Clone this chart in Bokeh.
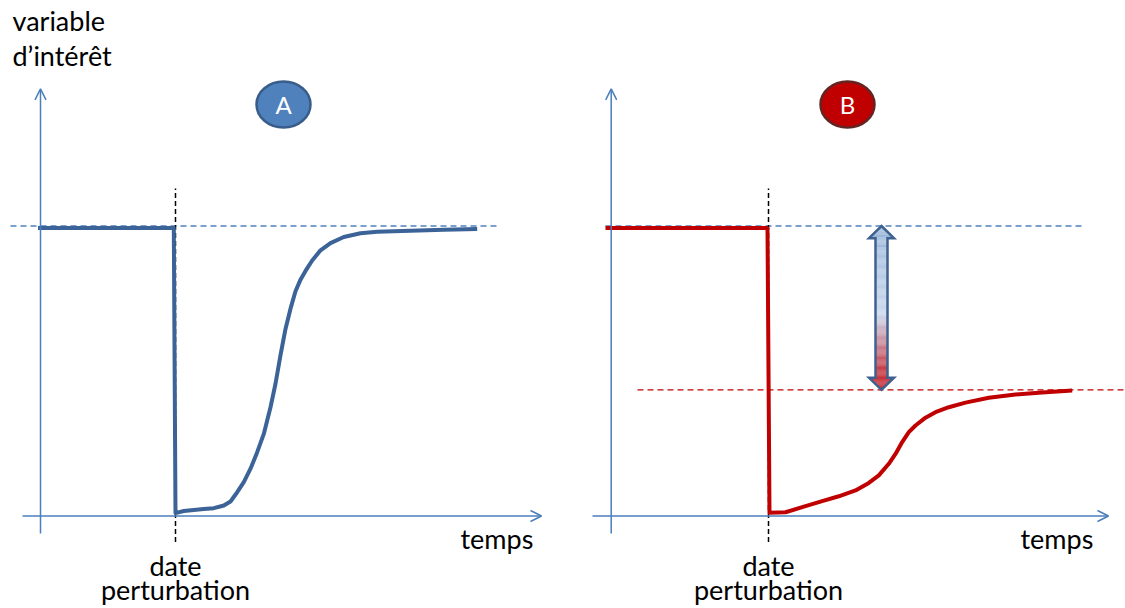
import numpy as np
from bokeh.plotting import figure
from bokeh.models import Range1d, Arrow, OpenHead
from bokeh.core.properties import value
from bokeh.embed import file_html
from bokeh.resources import INLINE

# ---------------- data (time: 0 = date of perturbation; value: 10 = reference level) -------------
t_A = [-13.75, -0.17, 0.0, 0.83, 1.83, 2.83, 3.83, 4.83, 5.5, 6.17, 6.83, 7.5, 8.17, 8.83, 9.5,
       10.0, 10.5, 11.0, 11.5, 12.0, 12.5, 13.0, 13.67, 14.5, 15.5, 16.83, 18.5, 20.17, 23.5, 26.83, 30.17]
v_A = [9.93, 9.93, 0.10, 0.17, 0.21, 0.24, 0.27, 0.36, 0.50, 0.82, 1.17, 1.63, 2.20, 2.83, 3.75,
       4.56, 5.55, 6.45, 7.15, 7.75, 8.15, 8.45, 8.81, 9.16, 9.41, 9.62, 9.75, 9.80, 9.84, 9.87, 9.90]

t_B = [-16.3, -0.1, 0.1, 1.7, 3.7, 5.37, 7.03, 8.7, 10.03, 11.03, 12.03, 12.7, 13.37, 14.03, 14.7,
       15.7, 16.7, 18.03, 19.7, 22.03, 24.7, 27.37, 30.37]
v_B = [9.93, 9.93, 0.11, 0.13, 0.34, 0.51, 0.68, 0.88, 1.14, 1.40, 1.80, 2.14, 2.55, 2.89, 3.12,
       3.39, 3.58, 3.75, 3.91, 4.08, 4.19, 4.26, 4.33]

ref_level = 10.0        # initial level (blue dashed)
new_level_B = 4.35      # new equilibrium in B (red dashed)
panel_labels = ["A", "B"]
y_title = ["variable", "d’intérêt"]
x_title = "temps"
date_label = ["date", "perturbation"]

# ---------------- layout (positions in the same units) ----------------
OFF_B = 59.3            # horizontal origin of panel B
yaxis_t = [-13.5, -15.73]
xaxis_start = [-15.3, -17.6]
xaxis_end = [36.6, 34.0]
yaxis_bottom, yaxis_top = -0.6, 14.73
ref_line = [(-16.5, 32.5), (-16.3, 31.4)]
red_line = (-13.1, 35.7)
date_line = (-0.9, 11.29)
badge_t = [10.8, 7.9]
badge_v = 14.19
temps_t = [28.5, 25.2]
arrow_t = 11.3

axis_color = "#4A7EBB"
FONT = value("Lato")

p = figure(width=1125, height=608, x_range=Range1d(-17.5, 95.0), y_range=Range1d(-3.19, 17.776),
           output_backend="svg", toolbar_location=None, min_border=0,
           x_axis_type=None, y_axis_type=None)
p.grid.visible = False
p.outline_line_color = None
p.background_fill_color = "white"

offs = [0.0, OFF_B]

for i, off in enumerate(offs):
    # axes with open arrow heads
    p.add_layout(Arrow(end=OpenHead(size=11, line_color=axis_color, line_width=1.5),
                       x_start=yaxis_t[i] + off, y_start=yaxis_bottom,
                       x_end=yaxis_t[i] + off, y_end=yaxis_top,
                       line_color=axis_color, line_width=1.5))
    p.add_layout(Arrow(end=OpenHead(size=11, line_color=axis_color, line_width=1.5),
                       x_start=xaxis_start[i] + off, y_start=0,
                       x_end=xaxis_end[i] + off, y_end=0,
                       line_color=axis_color, line_width=1.5))
    # reference level
    p.line([ref_line[i][0] + off, ref_line[i][1] + off], [ref_level, ref_level],
           line_color="#4F81BD", line_width=1.3, line_dash="6 4")
    # date of perturbation
    p.line([off, off], [date_line[0], date_line[1]], line_color="black",
           line_width=1.5, line_dash="5 3")

# red dashed new level
p.line([red_line[0] + OFF_B, red_line[1] + OFF_B], [new_level_B, new_level_B],
       line_color="#C00000", line_width=1.3, line_dash="6 4")

# curves
p.line(t_A, v_A, line_color="#3B6397", line_width=4, line_join="round")
p.line([t + OFF_B for t in t_B], v_B, line_color="#C00000", line_width=4, line_join="round")

# double arrow with gradient fill (blue -> red)
top, bot = ref_level, new_level_B
hh, hw, sw = 0.42, 1.25, 0.6
n = 180
edges = np.linspace(bot, top, n + 1)
mids = 0.5 * (edges[:-1] + edges[1:])
def halfw(v):
    if v - bot < hh:
        return hw * (v - bot) / hh
    if top - v < hh:
        return hw * (top - v) / hh
    return sw
def hex2rgb(h):
    return np.array([int(h[k:k + 2], 16) for k in (1, 3, 5)], float)
stops = [(0.0, hex2rgb("#C0141E")), (0.12, hex2rgb("#C02832")), (0.46, hex2rgb("#C6D5EC")),
         (1.0, hex2rgb("#95B3D7"))]
def col(f):
    for (f0, c0), (f1, c1) in zip(stops[:-1], stops[1:]):
        if f <= f1:
            c = c0 + (c1 - c0) * (f - f0) / (f1 - f0)
            return "#%02x%02x%02x" % tuple(int(round(x)) for x in c)
    return "#95b3d7"
xc = arrow_t + OFF_B
ws = [halfw(v) for v in mids]
p.quad(left=[xc - w for w in ws], right=[xc + w for w in ws],
       bottom=list(edges[:-1]), top=list(edges[1:]),
       fill_color=[col((v - bot) / (top - bot)) for v in mids], line_color=None)
px = [xc, xc + hw, xc + sw, xc + sw, xc + hw, xc, xc - hw, xc - sw, xc - sw, xc - hw]
py = [top, top - hh, top - hh, bot + hh, bot + hh, bot, bot + hh, bot + hh, top - hh, top - hh]
p.patch(px, py, fill_color=None, line_color="#3F6190", line_width=2.5, line_join="miter")

# badges A / B
p.ellipse(x=[badge_t[0], badge_t[1] + OFF_B], y=[badge_v, badge_v], width=54, height=46,
          width_units="screen", height_units="screen",
          fill_color=["#4F81BD", "#C00000"], line_color=["#385D8A", "#632523"], line_width=2.5)
p.text(x=[badge_t[0], badge_t[1] + OFF_B], y=[badge_v, badge_v], text=panel_labels,
       text_color="white", text_font=FONT, text_font_size="24px",
       text_align="center", text_baseline="middle")

# texts
p.text(x=[-16.3, -16.3], y=[17.08, 15.87], text=y_title,
       text_font=FONT, text_font_size="27px", text_color="black",
       text_align="left", text_baseline="alphabetic")
p.text(x=[temps_t[0], temps_t[1] + OFF_B], y=[-0.79, -0.79], text=[x_title, x_title],
       text_font=FONT, text_font_size="27px", text_color="black",
       text_align="left", text_baseline="alphabetic")
p.text(x=[0, OFF_B, 0, OFF_B], y=[-1.70, -1.70, -2.52, -2.52],
       text=[date_label[0], date_label[0], date_label[1], date_label[1]],
       text_font=FONT, text_font_size="27px", text_color="black",
       text_align="center", text_baseline="alphabetic")

open("out.html", "w").write(file_html(p, INLINE))
